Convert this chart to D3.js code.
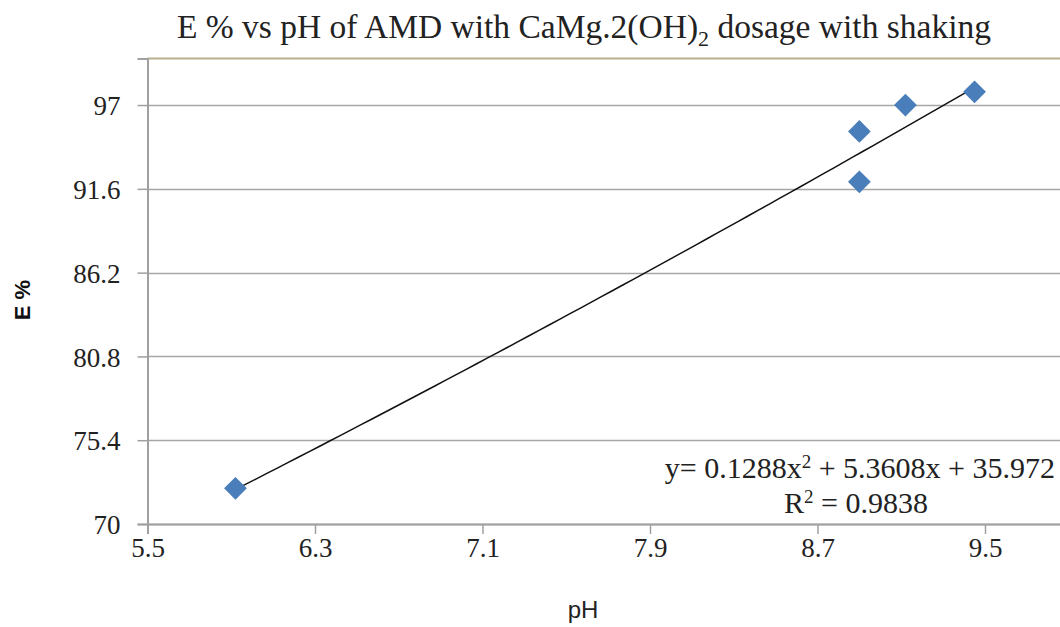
<!DOCTYPE html>
<html>
<head>
<meta charset="utf-8">
<script src="https://cdn.jsdelivr.net/npm/d3@7"></script>
<style>
  body { margin: 0; background: #fff; }
  svg { display: block; }
</style>
</head>
<body>
<div id="chart"></div>
<script>

const phValues = [5.92, 8.9, 8.9, 9.12, 9.45] ;
const eValues  = [72.3, 95.3, 92.05, 97.0, 97.85] ;
const xTicks = [5.5, 6.3, 7.1, 7.9, 8.7, 9.5] ;
const yTicks = [70, 75.4, 80.8, 86.2, 91.6, 97] ;
const trendCoef = [35.972, 5.3608, 0.1288] ;  // c0 + c1 x + c2 x^2

const width = 1060 ;
const height = 627 ;
const plotLeft = 147.5, plotTop = 58.5, plotBottom = 524 ;
const tickStep = 167.5 ;
const serif = "'Liberation Serif', 'Times New Roman', serif" ;

const svg = d3.select("#chart").append("svg")
	.attr("width", width)
	.attr("height", height) ;

const x = d3.scaleLinear()
	.domain([5.5, 10.3])
	.range([plotLeft, plotLeft + 6 * tickStep]) ;

const y = d3.scaleLinear()
	.domain([70, 100])
	.range([plotBottom, plotTop]) ;

// gridlines
svg.append("g")
	.selectAll("line")
	.data( yTicks )
	.enter()
		.append("line")
			.attr("x1", plotLeft)
			.attr("x2", width)
			.attr("y1", d => Math.round(y(d)) + 0.5)
			.attr("y2", d => Math.round(y(d)) + 0.5)
			.attr("stroke", "#a6a6a6")
			.attr("stroke-width", 1.5) ;

// top border
svg.append("line")
	.attr("x1", plotLeft).attr("x2", width)
	.attr("y1", plotTop).attr("y2", plotTop)
	.attr("stroke", "#b7b08c")
	.attr("stroke-width", 2) ;

// axes
const xAxis = svg.append("g")
	.attr("transform", "translate(0," + plotBottom + ")")
	.call( d3.axisBottom(x).tickValues(xTicks).tickSize(10).tickFormat(d3.format(".1f")) ) ;

const yAxis = svg.append("g")
	.attr("transform", "translate(" + plotLeft + ",0)")
	.call( d3.axisLeft(y).tickValues(yTicks).tickSize(10).tickFormat(d => d) ) ;

[xAxis, yAxis].forEach(function(g) {
	g.select(".domain").attr("stroke", "#a0a0a0").attr("stroke-width", 2) ;
	g.selectAll(".tick line").attr("stroke", "#a0a0a0").attr("stroke-width", 1.5) ;
	g.selectAll(".tick text")
		.attr("font-family", serif)
		.attr("font-size", 27)
		.attr("fill", "#222") ;
}) ;
xAxis.selectAll(".tick text").attr("y", 33).attr("dy", 0) ;
yAxis.selectAll(".tick text").attr("x", -27).attr("dy", "0.36em") ;

// trendline
const trendX = d3.range(d3.min(phValues), d3.max(phValues) + 0.001, 0.05) ;
const trend = d3.line()
	.x(d => x(d))
	.y(d => y(trendCoef[0] + trendCoef[1] * d + trendCoef[2] * d * d)) ;
svg.append("path")
	.datum( trendX )
	.attr("d", trend)
	.attr("fill", "none")
	.attr("stroke", "#111")
	.attr("stroke-width", 1.5) ;

// markers
svg.append("g")
	.selectAll("path")
	.data( phValues )
	.enter()
		.append("path")
			.attr("d", d3.symbol().type(d3.symbolSquare).size(260))
			.attr("transform", (d, i) => "translate(" + x(d) + "," + y(eValues[i]) + ") rotate(45)")
			.attr("fill", "#4a7ebb") ;

// title
const title = svg.append("text")
	.attr("x", 584)
	.attr("y", 38)
	.attr("text-anchor", "middle")
	.attr("font-family", serif)
	.attr("font-size", 33.5)
	.attr("fill", "#222") ;
title.append("tspan").text("E % vs pH of AMD with CaMg.2(OH)") ;
title.append("tspan").attr("font-size", 22).attr("dy", 8).text("2") ;
title.append("tspan").attr("dy", -8).text(" dosage with shaking") ;

// axis titles
svg.append("text")
	.attr("x", 583).attr("y", 618)
	.attr("text-anchor", "middle")
	.attr("font-family", "'Liberation Sans', Arial, sans-serif")
	.attr("font-size", 24)
	.attr("fill", "#222")
	.text("pH") ;

svg.append("text")
	.attr("transform", "translate(30,300) rotate(-90)")
	.attr("text-anchor", "middle")
	.attr("font-family", "'Liberation Sans', Arial, sans-serif")
	.attr("font-weight", "bold")
	.attr("font-size", 22)
	.attr("fill", "#111")
	.text("E %") ;

// equation
const eq = svg.append("text")
	.attr("x", 1055).attr("y", 478)
	.attr("text-anchor", "end")
	.attr("font-family", serif)
	.attr("font-size", 30)
	.attr("fill", "#222") ;
eq.append("tspan").text("y= 0.1288x") ;
eq.append("tspan").attr("font-size", 19).attr("dy", -10).text("2") ;
eq.append("tspan").attr("dy", 10).text(" + 5.3608x + 35.972") ;

const r2 = svg.append("text")
	.attr("x", 856).attr("y", 513)
	.attr("text-anchor", "middle")
	.attr("font-family", serif)
	.attr("font-size", 30)
	.attr("fill", "#222") ;
r2.append("tspan").text("R") ;
r2.append("tspan").attr("font-size", 19).attr("dy", -10).text("2") ;
r2.append("tspan").attr("dy", 10).text(" = 0.9838") ;

</script>
</body>
</html>
